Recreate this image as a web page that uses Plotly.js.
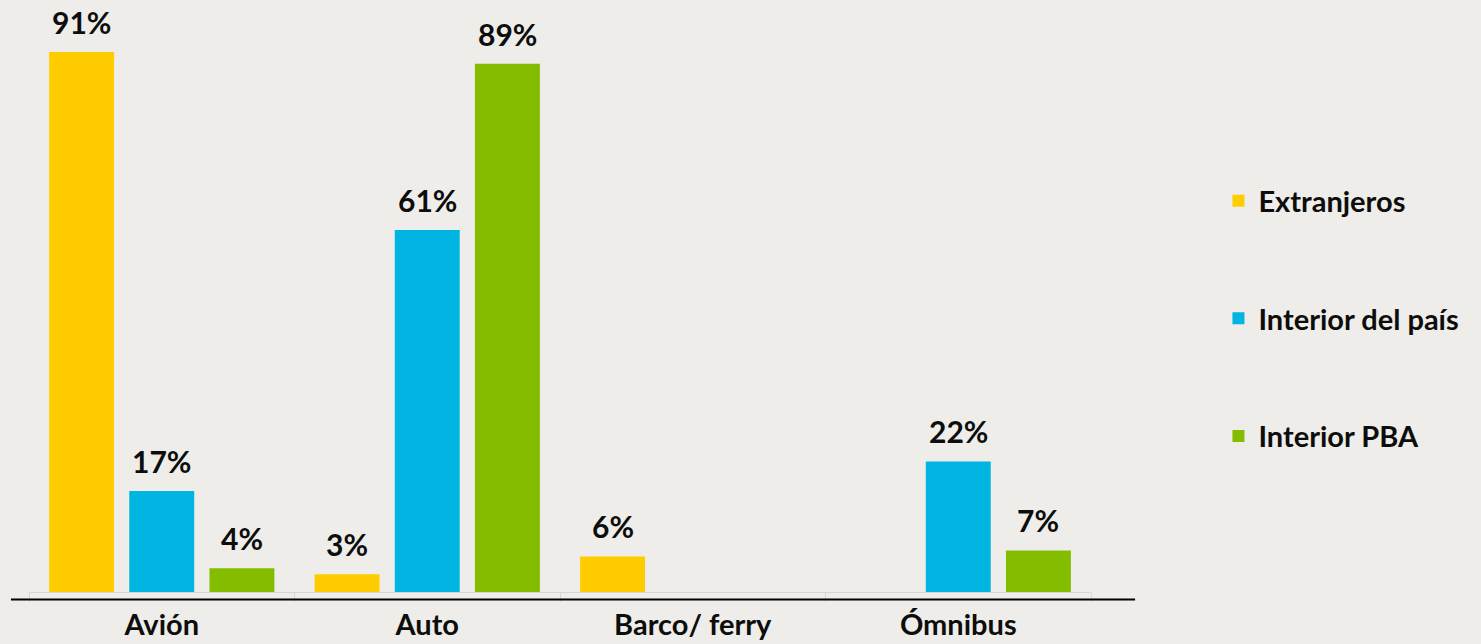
<!DOCTYPE html>
<html>
<head>
<meta charset="utf-8">
<script src="https://cdn.plot.ly/plotly-3.0.1.min.js"></script>
<style>
  html, body { margin: 0; padding: 0; background: #EEEDE9; }
  #chart { width: 1481px; height: 644px; }
</style>
</head>
<body>
<div id="chart"></div>
<script>
// ---- data ----
const categories = ["Avión", "Auto", "Barco/ ferry", "Ómnibus"];
const seriesNames = ["Extranjeros", "Interior del país", "Interior PBA"];
const extranjeros = [91, 3, 6, null];
const interiorPais = [17, 61, null, 22];
const interiorPBA = [4, 89, null, 7];
const seriesValues = [extranjeros, interiorPais, interiorPBA];
const seriesColors = ["#FFCC00", "#00B5E2", "#84BD00"];

// ---- layout params ----
const BARGAP = 0.094;
const BARGROUPGAP = 0.19;
const FONT = "Lato, 'Open Sans', sans-serif";

const traces = seriesValues.map((vals, s) => ({
  type: "bar",
  name: seriesNames[s],
  x: categories,
  y: vals,
  marker: { color: seriesColors[s], line: { width: 0 } },
  legendgroup: "g" + s,
  hoverinfo: "x+y+name",
  cliponaxis: false
}));

// value labels placed at each bar's slot inside the group
const slot = (1 - BARGAP) / seriesValues.length;
const annotations = [];
seriesValues.forEach((vals, s) => {
  vals.forEach((v, i) => {
    if (v === null || v === undefined) return;
    annotations.push({
      x: i + (s - (seriesValues.length - 1) / 2) * slot,
      y: v,
      xref: "x",
      yref: "y",
      text: v + "%",
      showarrow: false,
      yanchor: "bottom",
      xanchor: "center",
      yshift: 10,
      font: { family: FONT, size: 30, color: "#0d0d0d", weight: 700 }
    });
  });
});

const layout = {
  width: 1481,
  height: 644,
  paper_bgcolor: "#EEEDE9",
  plot_bgcolor: "#EEEDE9",
  margin: { l: 29, r: 390, t: 10, b: 52, pad: 0 },
  barmode: "group",
  bargap: BARGAP,
  bargroupgap: BARGROUPGAP,
  font: { family: FONT, color: "#0d0d0d" },
  showlegend: true,
  legend: {
    x: 1.12,
    xanchor: "left",
    y: 0.716,
    yanchor: "top",
    tracegroupgap: 77,
    bgcolor: "rgba(0,0,0,0)",
    font: { family: FONT, size: 29, color: "#0d0d0d", weight: 700 }
  },
  xaxis: {
    type: "category",
    showline: true,
    linecolor: "#d6d6d4",
    linewidth: 1,
    ticks: "outside",
    tickson: "boundaries",
    ticklen: 9,
    tickcolor: "#d6d6d4",
    tickwidth: 1,
    showgrid: false,
    zeroline: false,
    tickfont: { family: FONT, size: 29, color: "#0d0d0d", weight: 700 },
    ticklabelstandoff: 7,
    fixedrange: true
  },
  yaxis: {
    range: [0, 98.06],
    visible: false,
    showgrid: false,
    zeroline: false,
    fixedrange: true
  },
  shapes: [{
    type: "line",
    xref: "paper",
    yref: "paper",
    x0: -0.017,
    x1: 1.0415,
    y0: -0.013,
    y1: -0.013,
    line: { color: "#000000", width: 2 }
  }],
  annotations: annotations
};

Plotly.newPlot("chart", traces, layout, { displayModeBar: false, responsive: false });
</script>
</body>
</html>
